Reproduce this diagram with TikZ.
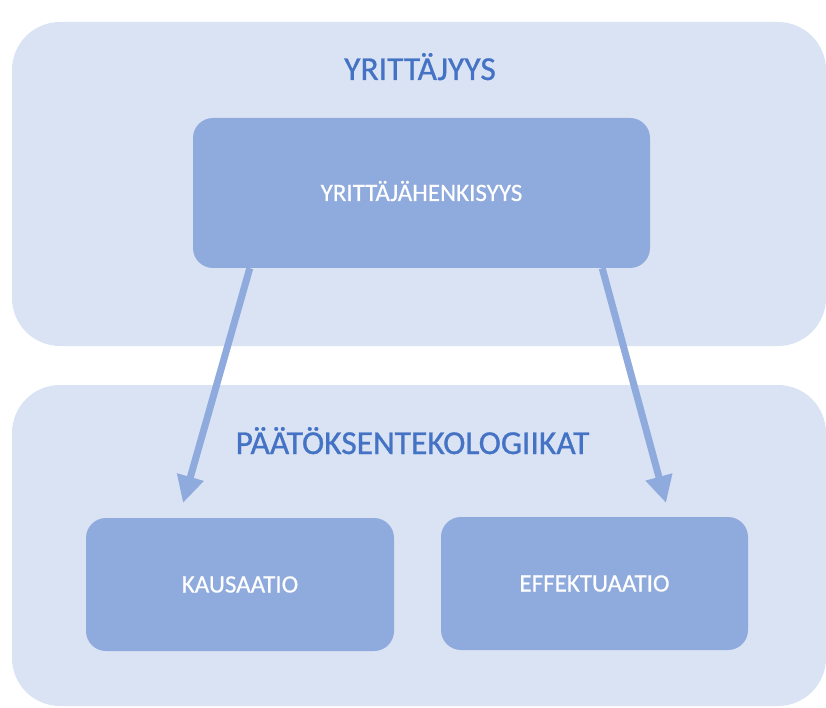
\documentclass[tikz,border=0pt]{standalone}
\usepackage{fontspec}
\setmainfont{Carlito}
\newfontfamily\heavyfont{Carlito}[FakeBold=0.8]
\newfontfamily\boxfont{Carlito}[FakeBold=0.5]
\usetikzlibrary{arrows.meta}
\definecolor{paleblue}{HTML}{DAE3F3}
\definecolor{boxblue}{HTML}{8FAADC}
\definecolor{titleblue}{HTML}{4472C4}

\begin{document}
\begin{tikzpicture}[x=1pt, y=-1pt]
    \useasboundingbox (0,0) rectangle (826,708);

    \begin{scope}[every node/.style={rectangle, rounded corners=48pt, fill=paleblue, inner sep=0pt}]
        \node (upper) at (419,184) [minimum width=814pt, minimum height=324pt] {};
        \node (lower) at (419,545.5) [minimum width=814pt, minimum height=321pt] {};
    \end{scope}

    \begin{scope}[every node/.style={text=titleblue, anchor=base, inner sep=0pt, font=\heavyfont\fontsize{33.5}{40}\selectfont}]
        \node (ytitle) at (420,80) {YRITTÄJYYS};
        \node (ptitle) at (412.5,454) {PÄÄTÖKSENTEKOLOGIIKAT};
    \end{scope}

    \begin{scope}[every node/.style={rectangle, rounded corners=20pt, fill=boxblue, text=white, inner sep=0pt, text height=16pt, text depth=0pt, font=\boxfont\fontsize{25}{30}\selectfont}]
        \node (yh) at (421.5,193) [minimum width=457pt, minimum height=150pt] {YRITTÄJÄHENKISYYS};
        \node (kaus) at (240,584.5) [minimum width=308pt, minimum height=133pt] {KAUSAATIO};
        \node (effe) at (594.5,583.5) [minimum width=307pt, minimum height=133pt] {EFFEKTUAATIO};
    \end{scope}

    \coordinate (kaustip) at (183,503);
    \coordinate (effetip) at (666,503);

    \begin{scope}[every edge/.style={draw=boxblue, line width=7pt, -{Triangle[length=27pt, width=26pt]}}]
        \path ([xshift=57pt]yh.south west) edge (kaustip);
        \path ([xshift=-48pt]yh.south east) edge (effetip);
    \end{scope}
\end{tikzpicture}
\end{document}
